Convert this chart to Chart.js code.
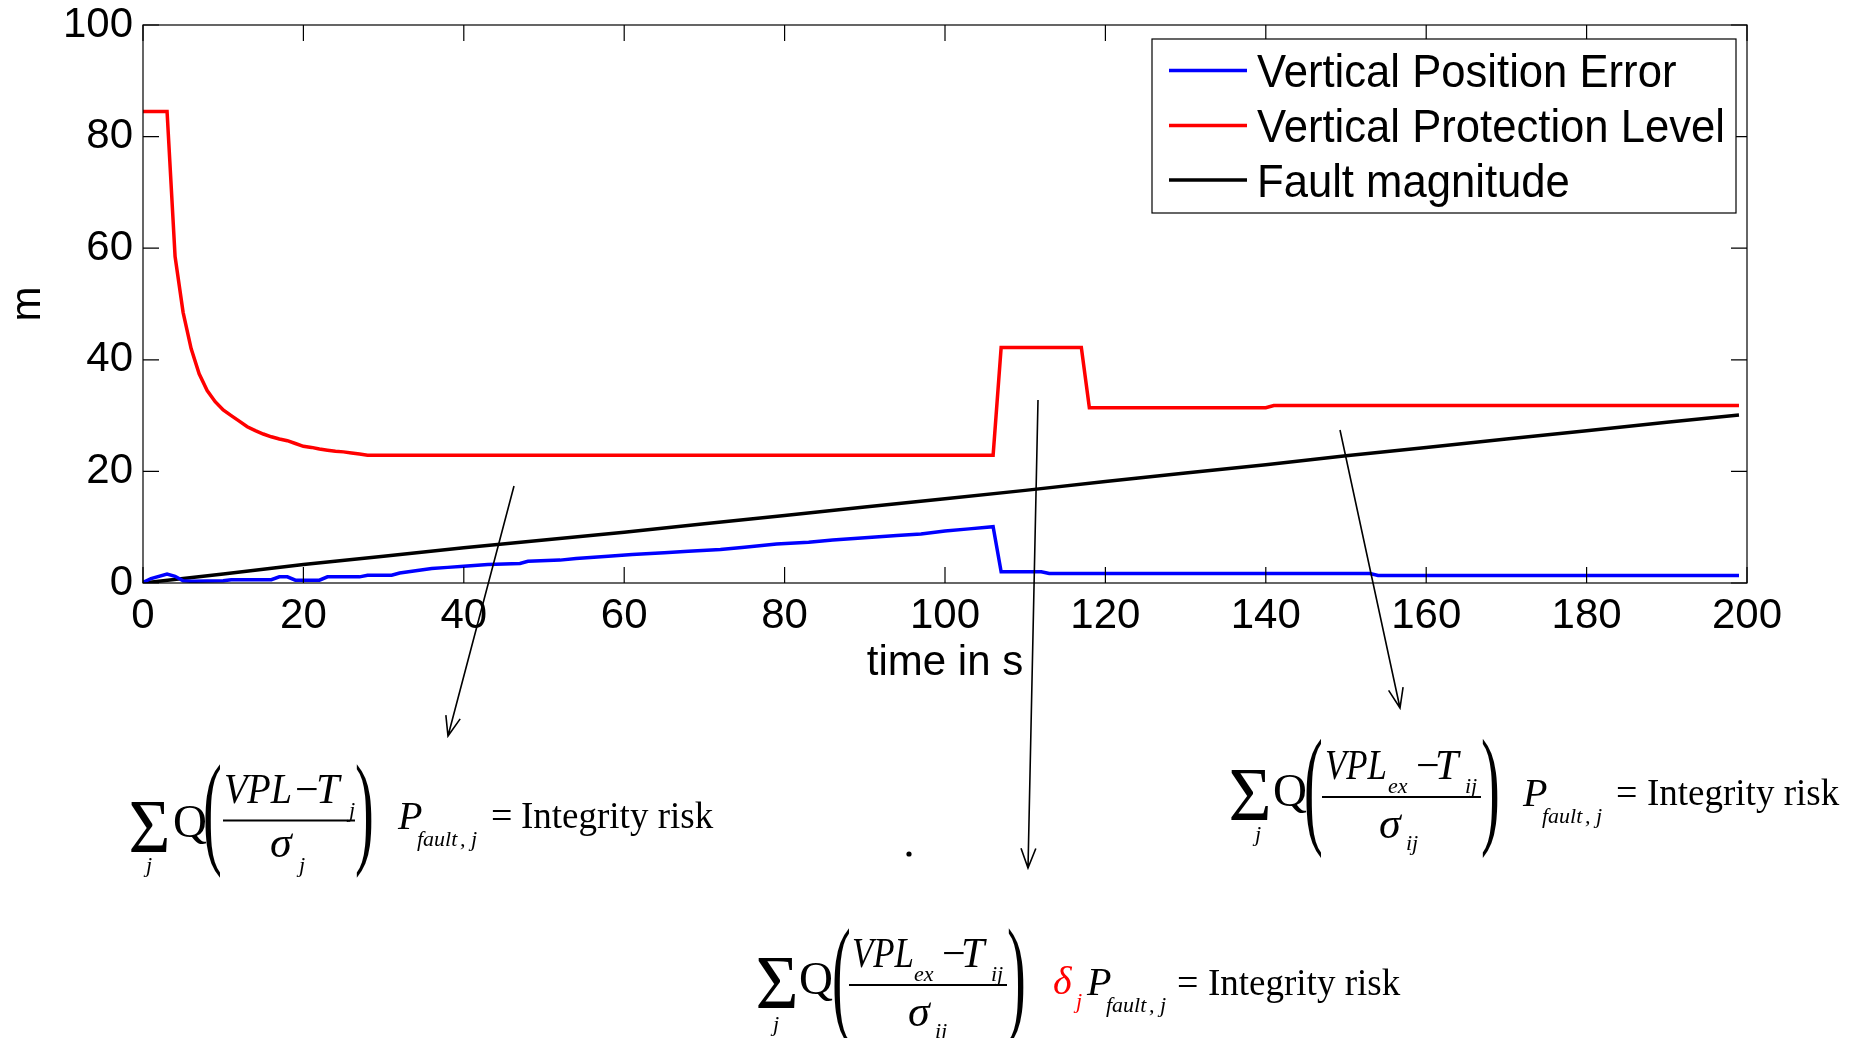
<!DOCTYPE html>
<html>
<head>
<meta charset="utf-8">
<script src="https://cdn.jsdelivr.net/npm/chart.js@4.4.1/dist/chart.umd.min.js"></script>
<style>
  html, body { margin: 0; padding: 0; background: #fff; }
  #chart { display: block; }
</style>
</head>
<body>
<canvas id="chart" width="1858" height="1038"></canvas>
<script>
// values (time in s, metres)
const vpeTime = [0, 1, 3, 4, 5, 6, 10, 11, 16, 17, 18, 19, 22, 23, 27, 28, 31, 32, 34, 36, 38, 40, 43, 47, 48, 52, 54, 58, 61, 65, 68, 72, 75, 79, 83, 86, 90, 94, 97, 100, 103, 106, 107, 112, 113, 153, 154, 199];
const vpe = [0.1, 0.8, 1.6, 1.2, 0.4, 0.3, 0.4, 0.6, 0.6, 1.1, 1.1, 0.5, 0.5, 1.1, 1.1, 1.4, 1.4, 1.8, 2.2, 2.6, 2.8, 3.0, 3.3, 3.5, 3.9, 4.1, 4.4, 4.8, 5.1, 5.4, 5.7, 6.0, 6.4, 7.0, 7.3, 7.7, 8.1, 8.5, 8.8, 9.3, 9.7, 10.1, 2.0, 2.0, 1.7, 1.7, 1.35, 1.35];

const vplTime = [0, 3, 4, 5, 6, 7, 8, 9, 10, 11, 12, 13, 14, 15, 16, 17, 18, 19, 20, 21, 22, 23, 24, 25, 26, 27, 28, 106, 107, 117, 118, 140, 141, 199];
const vpl = [84.5, 84.5, 58.5, 48.5, 42, 37.5, 34.5, 32.5, 31, 30, 29, 28, 27.3, 26.7, 26.2, 25.8, 25.5, 25, 24.5, 24.3, 24, 23.8, 23.6, 23.5, 23.3, 23.1, 22.9, 22.9, 42.2, 42.2, 31.4, 31.4, 31.8, 31.8];

const faultTime = [0, 10, 20, 30, 40, 50, 60, 70, 80, 90, 100, 110, 120, 130, 140, 150, 160, 170, 180, 190, 199];
const fault = [0, 1.6, 3.3, 4.8, 6.3, 7.7, 9.1, 10.6, 12.1, 13.6, 15.1, 16.6, 18.2, 19.7, 21.2, 22.8, 24.3, 25.8, 27.3, 28.8, 30.1];

const xTicks = [0, 20, 40, 60, 80, 100, 120, 140, 160, 180, 200];
const yTicks = [0, 20, 40, 60, 80, 100];

const sans = '"Liberation Sans", Arial, sans-serif';
const serif = '"Liberation Serif", "Times New Roman", serif';

const pts = (t, v) => t.map((x, i) => ({ x: x, y: v[i] }));

// axes box with inward ticks on all four sides
const boxPlugin = {
  id: 'box',
  afterDatasetsDraw(chart) {
    const c = chart.ctx, a = chart.chartArea;
    const sx = chart.scales.x, sy = chart.scales.y;
    c.save();
    c.strokeStyle = '#000';
    c.lineWidth = 1.2;
    c.strokeRect(a.left, a.top, a.right - a.left, a.bottom - a.top);
    c.beginPath();
    xTicks.forEach((v) => {
      const px = sx.getPixelForValue(v);
      c.moveTo(px, a.bottom); c.lineTo(px, a.bottom - 16);
      c.moveTo(px, a.top); c.lineTo(px, a.top + 16);
    });
    yTicks.forEach((v) => {
      const py = sy.getPixelForValue(v);
      c.moveTo(a.left, py); c.lineTo(a.left + 16, py);
      c.moveTo(a.right, py); c.lineTo(a.right - 16, py);
    });
    c.stroke();
    c.restore();
  }
};

// matlab style legend in the top right corner
const legendPlugin = {
  id: 'mlegend',
  afterDraw(chart) {
    const c = chart.ctx;
    c.save();
    c.fillStyle = '#fff';
    c.fillRect(1152, 39, 584, 174);
    c.strokeStyle = '#000';
    c.lineWidth = 1.2;
    c.strokeRect(1152, 39, 584, 174);
    c.font = '46px ' + sans;
    const k = 468 / c.measureText('Vertical Protection Level').width;
    const rows = [70.5, 125.5, 180];
    chart.data.datasets.forEach((ds, i) => {
      c.strokeStyle = ds.borderColor;
      c.lineWidth = 3.5;
      c.beginPath();
      c.moveTo(1169, rows[i]); c.lineTo(1247, rows[i]);
      c.stroke();
      c.save();
      c.translate(1257, rows[i] + 16.5);
      c.scale(k, 1);
      c.fillStyle = '#000';
      c.textBaseline = 'alphabetic';
      c.fillText(ds.label, 0, 0);
      c.restore();
    });
    c.restore();
  }
};

function put(c, s, x, y, size, o) {
  o = o || {};
  c.save();
  c.font = (o.it ? 'italic ' : '') + size + 'px ' + serif;
  c.fillStyle = o.color || '#000';
  c.textBaseline = 'alphabetic';
  c.textAlign = 'left';
  c.translate(x, y);
  if (o.w) c.scale(o.w / c.measureText(s).width, 1);
  c.fillText(s, 0, 0);
  c.restore();
}

// stretch a glyph so its ink fills the given box
function fit(c, s, l, t, r, b) {
  c.save();
  c.font = '60px ' + serif;
  const m = c.measureText(s);
  const w = m.actualBoundingBoxLeft + m.actualBoundingBoxRight;
  const h = m.actualBoundingBoxAscent + m.actualBoundingBoxDescent;
  const kx = (r - l) / w, ky = (b - t) / h;
  c.translate(l + m.actualBoundingBoxLeft * kx, t + m.actualBoundingBoxAscent * ky);
  c.scale(kx, ky);
  c.fillStyle = '#000';
  c.textBaseline = 'alphabetic';
  c.textAlign = 'left';
  c.fillText(s, 0, 0);
  c.restore();
}

function bar(c, x1, x2, y) {
  c.save();
  c.strokeStyle = '#000';
  c.lineWidth = 2;
  c.beginPath(); c.moveTo(x1, y); c.lineTo(x2, y); c.stroke();
  c.restore();
}

function arrow(c, x1, y1, x2, y2) {
  const a = Math.atan2(y2 - y1, x2 - x1), L = 21, h = 0.36;
  c.beginPath();
  c.moveTo(x1, y1); c.lineTo(x2, y2);
  c.moveTo(x2 - L * Math.cos(a - h), y2 - L * Math.sin(a - h));
  c.lineTo(x2, y2);
  c.lineTo(x2 - L * Math.cos(a + h), y2 - L * Math.sin(a + h));
  c.stroke();
}

const notesPlugin = {
  id: 'notes',
  afterDraw(chart) {
    const c = chart.ctx;
    c.save();
    c.strokeStyle = '#000';
    c.lineWidth = 1.6;
    arrow(c, 514, 486, 448, 736);
    arrow(c, 1038, 400, 1028, 868);
    arrow(c, 1340, 430, 1400, 708);
    c.fillStyle = '#000';
    c.beginPath(); c.arc(909, 854, 2.6, 0, Math.PI * 2); c.fill();
    c.restore();

    // formula 1
    fit(c, '\u03A3', 131, 802, 167, 852);
    put(c, 'j', 146, 872, 22, { it: true });
    put(c, 'Q', 173, 837, 47);
    fit(c, '(', 205, 763, 221, 878);
    put(c, 'VPL', 224, 803, 42, { it: true, w: 68 });
    put(c, '\u2212', 295, 803, 42);
    put(c, 'T', 316, 803, 42, { it: true });
    put(c, 'j', 349, 817, 22, { it: true });
    bar(c, 223, 355, 820.5);
    put(c, '\u03C3', 270, 857, 44, { it: true });
    put(c, 'j', 299, 872, 22, { it: true });
    fit(c, ')', 356, 763, 372, 878);
    put(c, 'P', 398, 829, 40, { it: true });
    put(c, 'fault', 417, 846, 22, { it: true });
    put(c, ', j', 460, 846, 22, { it: true });
    put(c, '=', 491, 828, 38);
    put(c, 'Integrity risk', 521, 828, 37);

    // formula 2
    fit(c, '\u03A3', 758, 958, 795, 1008);
    put(c, 'j', 773, 1031, 22, { it: true });
    put(c, 'Q', 799, 994, 47);
    fit(c, '(', 834, 928, 850, 1046);
    put(c, 'VPL', 852, 967, 42, { it: true, w: 62 });
    put(c, 'ex', 914, 981, 22, { it: true });
    put(c, '\u2212', 942, 967, 42);
    put(c, 'T', 961, 967, 42, { it: true });
    put(c, 'ij', 991, 981, 22, { it: true });
    bar(c, 849, 1007, 985);
    put(c, '\u03C3', 908, 1026, 44, { it: true });
    put(c, 'ij', 935, 1038, 22, { it: true });
    fit(c, ')', 1008, 928, 1024, 1046);
    put(c, '\u03B4', 1053, 994, 40, { it: true, color: '#ff0000' });
    put(c, 'j', 1076, 1008, 22, { it: true, color: '#ff0000' });
    put(c, 'P', 1087, 995, 40, { it: true });
    put(c, 'fault', 1106, 1012, 22, { it: true });
    put(c, ', j', 1149, 1012, 22, { it: true });
    put(c, '=', 1177, 995, 38);
    put(c, 'Integrity risk', 1208, 995, 37);

    // formula 3
    fit(c, '\u03A3', 1231, 770, 1268, 820);
    put(c, 'j', 1255, 841, 22, { it: true });
    put(c, 'Q', 1273, 806, 47);
    fit(c, '(', 1306, 738, 1322, 858);
    put(c, 'VPL', 1325, 779, 42, { it: true, w: 62 });
    put(c, 'ex', 1388, 793, 22, { it: true });
    put(c, '\u2212', 1416, 779, 42);
    put(c, 'T', 1435, 779, 42, { it: true });
    put(c, 'ij', 1465, 793, 22, { it: true });
    bar(c, 1322, 1481, 797);
    put(c, '\u03C3', 1379, 838, 44, { it: true });
    put(c, 'ij', 1406, 850, 22, { it: true });
    fit(c, ')', 1482, 738, 1498, 858);
    put(c, 'P', 1523, 806, 40, { it: true });
    put(c, 'fault', 1542, 823, 22, { it: true });
    put(c, ', j', 1585, 823, 22, { it: true });
    put(c, '=', 1616, 805, 38);
    put(c, 'Integrity risk', 1647, 805, 37);
  }
};

const ctx = document.querySelector('#chart').getContext('2d');
const chart = new Chart(ctx, {
  type: 'line',
  data: {
    datasets: [
      { label: 'Vertical Position Error', data: pts(vpeTime, vpe), borderColor: '#0000ff', borderWidth: 3.5 },
      { label: 'Vertical Protection Level', data: pts(vplTime, vpl), borderColor: '#ff0000', borderWidth: 3.5 },
      { label: 'Fault magnitude', data: pts(faultTime, fault), borderColor: '#000000', borderWidth: 3.5 },
    ],
  },
  options: {
    responsive: false,
    animation: false,
    layout: { padding: { left: 0, top: 25, right: 111, bottom: 345 } },
    elements: { point: { radius: 0 }, line: { tension: 0, fill: false } },
    plugins: { legend: { display: false }, tooltip: { enabled: false } },
    scales: {
      x: {
        type: 'linear', min: 0, max: 200,
        afterBuildTicks: (s) => { s.ticks = xTicks.map((v) => ({ value: v })); },
        afterFit: (s) => { s.height = 110; s.paddingLeft = 0; s.paddingRight = 0; },
        grid: { display: false, drawTicks: false },
        border: { display: false },
        ticks: { color: '#000', font: { family: sans, size: 42 }, padding: 8, maxRotation: 0, autoSkip: false },
        title: { display: true, text: 'time in s', color: '#000', font: { family: sans, size: 42 }, padding: { top: 0, bottom: 4 } },
      },
      y: {
        type: 'linear', min: 0, max: 100,
        afterBuildTicks: (s) => { s.ticks = yTicks.map((v) => ({ value: v })); },
        afterFit: (s) => { s.width = 143; s.paddingTop = 0; s.paddingBottom = 0; },
        grid: { display: false, drawTicks: false },
        border: { display: false },
        ticks: { color: '#000', font: { family: sans, size: 42 }, padding: 10 },
        title: { display: true, text: 'm', color: '#000', font: { family: sans, size: 42 }, padding: { top: 3, bottom: 0 } },
      },
    },
  },
  plugins: [boxPlugin, legendPlugin, notesPlugin],
});
</script>
</body>
</html>
